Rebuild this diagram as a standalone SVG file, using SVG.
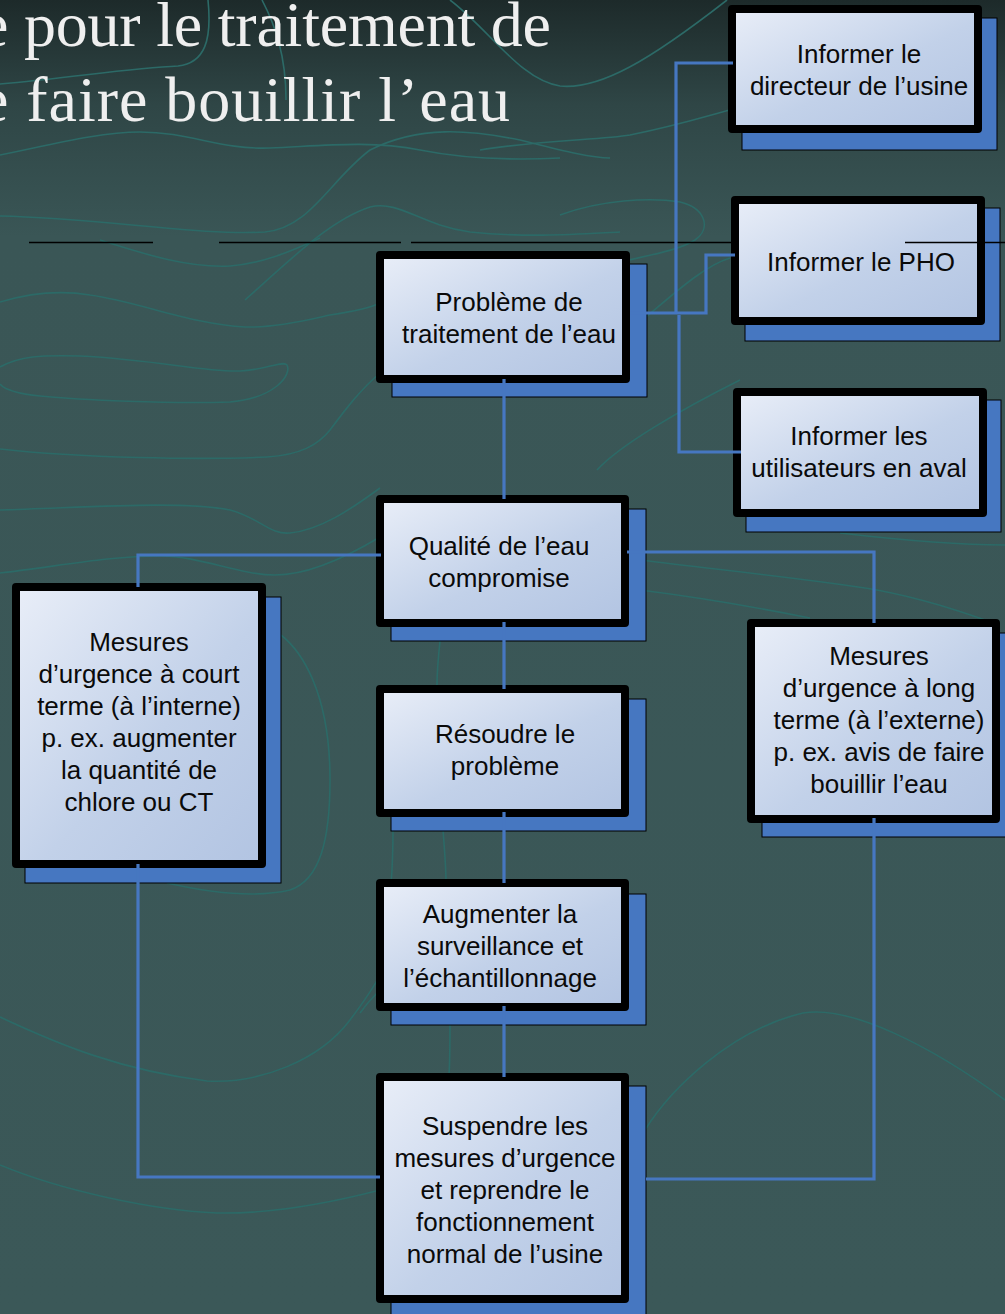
<svg xmlns="http://www.w3.org/2000/svg" width="1005" height="1314" viewBox="0 0 1005 1314">
<defs>
<linearGradient id="bg" x1="0" y1="0" x2="0" y2="1">
<stop offset="0" stop-color="#1d2a2a"/>
<stop offset="0.08" stop-color="#2f4646"/>
<stop offset="0.18" stop-color="#3a5656"/>
<stop offset="1" stop-color="#3b5858"/>
</linearGradient>
<linearGradient id="boxfill" x1="0" y1="0" x2="1" y2="1">
<stop offset="0" stop-color="#e9eef8"/>
<stop offset="0.55" stop-color="#c2d1e9"/>
<stop offset="1" stop-color="#b2c4e2"/>
</linearGradient>
<style>
.contour{fill:none;stroke:#2c6a67;stroke-width:1.6}
.rule{stroke:#000;stroke-width:1.6}
.shadow{fill:#4677c1;stroke:#000;stroke-width:1}
.box{fill:url(#boxfill);stroke:#000;stroke-width:8;stroke-linejoin:round}
.lbl{font-family:"Liberation Sans",Arial,sans-serif;font-size:26px;fill:#0a0a0a;text-anchor:middle}
.title{font-family:"Liberation Serif","Times New Roman",serif;font-size:64px;fill:#efefef}
.conn{fill:none;stroke:#4677c1;stroke-width:3.2}
</style>
</defs>
<rect x="0" y="0" width="1005" height="1314" fill="url(#bg)"/>
<g id="background-contours">
<path class="contour" d="M0,84 C70,78 130,68 178,66 C205,63 212,40 208,0"/>
<path class="contour" d="M262,0 C275,25 286,55 286,100"/>
<path class="contour" d="M0,155 C50,145 100,132 140,132 C190,132 220,150 270,148 C320,146 370,140 420,150 C470,160 520,160 560,158"/>
<path class="contour" d="M0,216 C100,218 200,236 265,232 C310,228 330,180 370,150 C420,125 470,130 520,140 C560,150 590,158 610,158"/>
<path class="contour" d="M245,300 C290,260 330,220 370,207 C400,200 420,225 470,232 C530,238 580,234 620,232"/>
<path class="contour" d="M450,0 C490,30 520,80 560,86 C600,90 650,60 727,0"/>
<path class="contour" d="M480,150 C540,140 600,140 630,135 C680,125 710,115 730,110"/>
<path class="contour" d="M560,215 C600,200 650,197 680,202 C705,208 712,228 695,240 C680,250 650,255 620,262 C590,270 560,280 540,290"/>
<path class="contour" d="M600,350 C640,330 690,270 730,258"/>
<path class="contour" d="M100,240 C150,256 190,268 230,266 C260,264 290,252 320,238"/>
<path class="contour" d="M0,302 C30,293 60,290 90,295 C140,302 190,324 245,327 C280,328 315,318 330,315 C350,312 370,308 380,303"/>
<path class="contour" d="M0,367 C20,356 40,355 80,356 C160,360 200,372 240,371 C265,370 283,360 287,365 C292,375 275,398 230,402 C170,404 80,400 40,396 C20,394 5,390 0,384"/>
<path class="contour" d="M0,449 C80,458 200,460 267,457 C300,455 318,445 330,430 C345,410 360,390 380,373"/>
<path class="contour" d="M0,510 C80,508 180,500 230,510 C260,518 270,535 290,533 C320,530 350,510 380,488"/>
<path class="contour" d="M0,573 C60,566 110,556 160,556 C200,556 240,575 275,575 C310,575 350,555 380,537"/>
<path class="contour" d="M597,470 C620,445 680,410 740,380"/>
<path class="contour" d="M640,560 C720,570 820,580 877,590 C930,600 970,615 1000,625"/>
<path class="contour" d="M640,590 C720,600 780,612 810,618"/>
<path class="contour" d="M840,533 C900,540 960,545 1005,545"/>
<path class="contour" d="M281,635 C300,650 330,690 330,780 C330,840 320,880 290,890 C260,897 220,895 167,883"/>
<path class="contour" d="M0,1017 C60,1045 120,1070 207,1081 C260,1084 320,1060 350,1020 C365,1000 375,985 380,975"/>
<path class="contour" d="M0,1165 C60,1190 150,1210 217,1213 C270,1214 330,1203 380,1190"/>
<path class="contour" d="M645,1130 C670,1090 730,1030 803,1013 C850,1005 930,1045 1005,1100"/>
<path class="contour" d="M393,830 C393,855 392,872 391,885"/>
<path class="contour" d="M443,830 C445,855 446,870 446,882"/>
<path class="contour" d="M450,1020 C450,1040 450,1060 449,1075"/>
<path class="contour" d="M440,641 C438,660 437,672 437,685"/>
<path class="contour" d="M377,993 C370,1000 365,1006 360,1013"/>
</g>
<g id="title">
<text class="title" x="-20" y="46" textLength="571" lengthAdjust="spacing">e pour le traitement de</text>
<text class="title" x="-20" y="121" textLength="530" lengthAdjust="spacing">e faire bouillir l’eau</text>
</g>
<g id="rules">
<line class="rule" x1="29" y1="242.5" x2="153" y2="242.5"/>
<line class="rule" x1="219" y1="242.5" x2="401" y2="242.5"/>
<line class="rule" x1="411" y1="242.5" x2="740" y2="242.5"/>
</g>
<g id="node-directeur">
<rect class="shadow" x="742" y="18" width="255" height="132"/>
<rect class="box" x="732" y="9" width="246" height="120"/>
<text class="lbl" x="859" y="63">Informer le</text>
<text class="lbl" x="859" y="95">directeur de l’usine</text>
</g>
<g id="node-pho">
<rect class="shadow" x="745" y="208" width="255" height="133"/>
<rect class="box" x="735" y="200" width="246" height="121"/>
<text class="lbl" x="861" y="271">Informer le PHO</text>
</g>
<g id="node-utilisateurs">
<rect class="shadow" x="746" y="400" width="255" height="132"/>
<rect class="box" x="737" y="392" width="246" height="121"/>
<text class="lbl" x="859" y="445">Informer les</text>
<text class="lbl" x="859" y="477">utilisateurs en aval</text>
</g>
<g id="node-probleme">
<rect class="shadow" x="392" y="264" width="255" height="133"/>
<rect class="box" x="380" y="255" width="246" height="124"/>
<text class="lbl" x="509" y="311">Problème de</text>
<text class="lbl" x="509" y="343">traitement de l’eau</text>
</g>
<g id="node-qualite">
<rect class="shadow" x="391" y="509" width="255" height="132"/>
<rect class="box" x="380" y="499" width="245" height="124"/>
<text class="lbl" x="499" y="555">Qualité de l’eau</text>
<text class="lbl" x="499" y="587">compromise</text>
</g>
<g id="node-resoudre">
<rect class="shadow" x="391" y="699" width="255" height="132"/>
<rect class="box" x="380" y="689" width="245" height="124"/>
<text class="lbl" x="505" y="743">Résoudre le</text>
<text class="lbl" x="505" y="775">problème</text>
</g>
<g id="node-augmenter">
<rect class="shadow" x="391" y="894" width="255" height="131"/>
<rect class="box" x="380" y="883" width="245" height="124"/>
<text class="lbl" x="500" y="923">Augmenter la</text>
<text class="lbl" x="500" y="955">surveillance et</text>
<text class="lbl" x="500" y="987">l’échantillonnage</text>
</g>
<g id="node-suspendre">
<rect class="shadow" x="391" y="1086" width="255" height="240"/>
<rect class="box" x="380" y="1077" width="245" height="222"/>
<text class="lbl" x="505" y="1135">Suspendre les</text>
<text class="lbl" x="505" y="1167">mesures d’urgence</text>
<text class="lbl" x="505" y="1199">et reprendre le</text>
<text class="lbl" x="505" y="1231">fonctionnement</text>
<text class="lbl" x="505" y="1263">normal de l’usine</text>
</g>
<g id="node-court-terme">
<rect class="shadow" x="25" y="597" width="256" height="286"/>
<rect class="box" x="16" y="587" width="246" height="277"/>
<text class="lbl" x="139" y="651">Mesures</text>
<text class="lbl" x="139" y="683">d’urgence à court</text>
<text class="lbl" x="139" y="715">terme (à l’interne)</text>
<text class="lbl" x="139" y="747">p. ex. augmenter</text>
<text class="lbl" x="139" y="779">la quantité de</text>
<text class="lbl" x="139" y="811">chlore ou CT</text>
</g>
<g id="node-long-terme">
<rect class="shadow" x="762" y="633" width="255" height="204"/>
<rect class="box" x="751" y="623" width="245" height="196"/>
<text class="lbl" x="879" y="665">Mesures</text>
<text class="lbl" x="879" y="697">d’urgence à long</text>
<text class="lbl" x="879" y="729">terme (à l’externe)</text>
<text class="lbl" x="879" y="761">p. ex. avis de faire</text>
<text class="lbl" x="879" y="793">bouillir l’eau</text>
</g>
<g id="connectors">
<path class="conn" d="M630,313 H706 V255 H735"/>
<path class="conn" d="M733,63 H676 V313"/>
<path class="conn" d="M679,315 V452 H741"/>
<path class="conn" d="M504,379 V499"/>
<path class="conn" d="M381,555 H138 V587"/>
<path class="conn" d="M627,552 H874 V623"/>
<path class="conn" d="M504,622 V689"/>
<path class="conn" d="M504,812 V883"/>
<path class="conn" d="M504,1006 V1077"/>
<path class="conn" d="M138,864 V1177 H380"/>
<path class="conn" d="M874,818 V1179 H646"/>
</g>
<line class="rule" x1="905" y1="242.5" x2="1005" y2="242.5"/>
</svg>
